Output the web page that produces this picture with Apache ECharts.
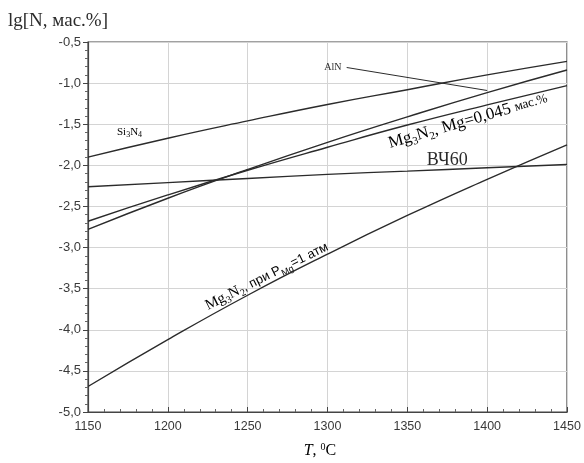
<!DOCTYPE html>
<html>
<head>
<meta charset="utf-8">
<script src="https://cdn.jsdelivr.net/npm/echarts@6/dist/echarts.min.js"></script>
<style>html,body{margin:0;padding:0;background:#fff;}#c{width:584px;height:463px;}</style>
</head>
<body>
<div id="c"></div>
<script>
var temps = [1150, 1200, 1250, 1300, 1350, 1400, 1450];
var si3n4 = [-1.90, -1.67, -1.46, -1.26, -1.08, -0.90, -0.735];
var aln = [-2.78, -2.40, -2.05, -1.72, -1.41, -1.115, -0.84];
var mgN2Mg = [-2.68, -2.36, -2.06, -1.78, -1.51, -1.265, -1.03];
var vch60 = [-2.26, -2.21, -2.16, -2.11, -2.07, -2.03, -1.99];
var mgN2P = [-4.69, -4.12, -3.58, -3.08, -2.61, -2.17, -1.75];
var alnPointerT = [1312, 1400];
var alnPointerV = [-0.81, -1.09];
var xTicks = [1150, 1450, 50];
var yTicks = [-5.0, -0.5, 0.5];

function pairs(xs, ys){ return xs.map(function(x,i){ return [x, ys[i]]; }); }

var lineStyle = {color:'#2b2b2b', width:1.4};
function mk(name, vals){
  return {name:name, type:'line', data:pairs(temps, vals), symbol:'none', smooth:true, lineStyle:lineStyle, silent:true, animation:false};
}

var chart = echarts.init(document.getElementById('c'));
var serifF = '"Liberation Serif", "DejaVu Serif", serif';
var sansF = '"Liberation Sans", Arial, sans-serif';
chart.setOption({
  animation:false,
  backgroundColor:'#fff',
  grid:{left:88, right:17, top:42, bottom:51, show:true, borderColor:'#444', borderWidth:1.2, backgroundColor:'transparent'},
  xAxis:{type:'value', min:xTicks[0], max:xTicks[1], interval:xTicks[2],
    axisLine:{lineStyle:{color:'#444', width:1.2}},
    axisTick:{inside:true, length:5, lineStyle:{color:'#444'}},
    minorTick:{show:true, splitNumber:5, length:3, lineStyle:{color:'#666'}},
    splitLine:{show:true, lineStyle:{color:'#d4d4d4', width:1}},
    axisLabel:{color:'#3a3a3a', fontFamily:sansF, fontSize:12.5, margin:8,
      formatter:function(v){ return String(v); }}
  },
  yAxis:{type:'value', min:yTicks[0], max:yTicks[1], interval:yTicks[2],
    axisLine:{show:true, lineStyle:{color:'#444', width:1.2}},
    axisTick:{inside:false, length:5, lineStyle:{color:'#444'}},
    minorTick:{show:true, splitNumber:5, length:3, lineStyle:{color:'#666'}},
    splitLine:{show:true, lineStyle:{color:'#d4d4d4', width:1}},
    axisLabel:{color:'#3a3a3a', fontFamily:sansF, fontSize:13, margin:7,
      formatter:function(v){ return v.toFixed(1).replace('.', ','); }}
  },
  series:[
    mk('Si3N4', si3n4),
    mk('AlN', aln),
    mk('Mg3N2 Mg', mgN2Mg),
    mk('ВЧ60', vch60),
    mk('Mg3N2 P', mgN2P),
    {name:'pointer', type:'line', data:pairs(alnPointerT, alnPointerV), symbol:'none', lineStyle:{color:'#2b2b2b', width:1}, silent:true}
  ]
});

function px(t, v){ return chart.convertToPixel({gridIndex:0}, [t, v]); }
var subStyle = {fontSize:8, fontFamily:serifF, color:'#2b2b2b', padding:[7,0,0,0]};
var texts = [];
var p;
texts.push({type:'text', left:8, top:12, style:{text:'lg[N, мас.%]', font:'19px '+serifF, fill:'#2b2b2b'}});
p = px(1176, -1.59);
texts.push({type:'text', x:p[0], y:p[1], style:{text:'{n|Si}{s|3}{n|N}{s|4}', align:'center', verticalAlign:'middle',
  rich:{n:{fontSize:11, fontFamily:serifF, color:'#2b2b2b'}, s:subStyle}}});
p = px(1298, -0.81);
texts.push({type:'text', x:p[0], y:p[1], style:{text:'AlN', align:'left', verticalAlign:'middle', font:'10px '+serifF, fill:'#2b2b2b'}});
p = px(1388, -1.46);
texts.push({type:'text', x:p[0], y:p[1], rotation:16*Math.PI/180, style:{text:'{n|Mg}{s|3}{n|N}{s|2}{n|, Mg=0,045 }{m|мас.%}', align:'center', verticalAlign:'middle',
  rich:{n:{fontSize:17, fontFamily:serifF, color:'#2b2b2b'}, m:{fontSize:13, fontFamily:serifF, color:'#2b2b2b'}, s:{fontSize:11, fontFamily:serifF, color:'#2b2b2b', padding:[10,0,0,0]}}}});
p = px(1375, -1.94);
texts.push({type:'text', x:p[0], y:p[1], style:{text:'ВЧ60', align:'center', verticalAlign:'middle', font:'18px '+serifF, fill:'#2b2b2b'}});
p = px(1262, -3.35);
texts.push({type:'text', x:p[0], y:p[1], rotation:26.4*Math.PI/180, style:{text:'{n|Mg}{s|3}{n|N}{s|2}{a|, при P}{s2|Mg}{a|=1 атм}', align:'center', verticalAlign:'middle',
  rich:{n:{fontSize:15, fontFamily:serifF, color:'#2b2b2b'}, a:{fontSize:13, fontFamily:sansF, color:'#2b2b2b'}, s:{fontSize:10, fontFamily:serifF, color:'#2b2b2b', padding:[9,0,0,0]}, s2:{fontSize:9, fontFamily:sansF, color:'#2b2b2b', padding:[9,0,0,0]}}}});
texts.push({type:'text', x:320, y:451, style:{text:'{i|T}{n|, }{u|0}{n|C}', align:'center', verticalAlign:'middle',
  rich:{i:{fontSize:16, fontStyle:'italic', fontFamily:serifF, color:'#2b2b2b'}, n:{fontSize:16, fontFamily:serifF, color:'#2b2b2b'}, u:{fontSize:10, fontFamily:serifF, color:'#2b2b2b', padding:[0,0,8,0]}}}});
chart.setOption({graphic:texts});
</script>
</body>
</html>
